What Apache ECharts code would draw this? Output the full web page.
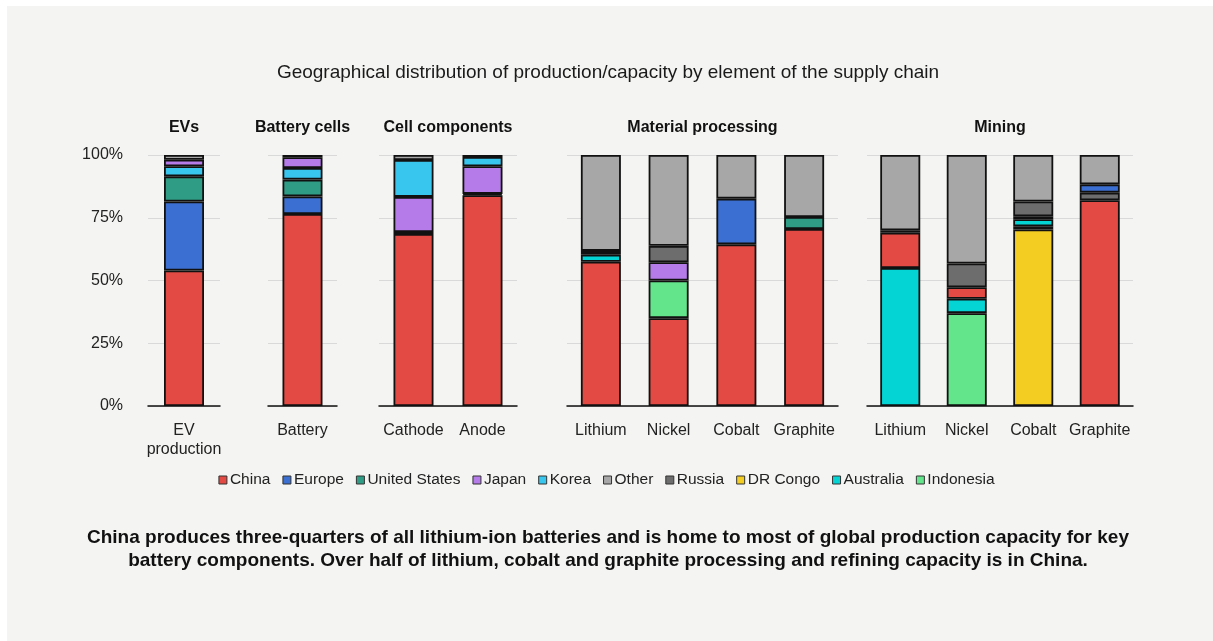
<!DOCTYPE html>
<html>
<head>
<meta charset="utf-8">
<script src="https://cdn.jsdelivr.net/npm/echarts@6/dist/echarts.min.js"></script>
<style>
  html, body { margin: 0; padding: 0; background: #ffffff; }
  #bg { position: absolute; left: 7px; top: 6px; right: 0; bottom: 0; background: #f4f4f2; }
  #main { position: absolute; left: 0; top: 0; width: 1213px; height: 641px; }
</style>
</head>
<body>
<div id="bg"></div>
<div id="main"></div>
<script>
// panels and their bars
const groups = ['EVs', 'Battery cells', 'Cell components', 'Material processing', 'Mining']
const categories = [
  ['EV\nproduction'],
  ['Battery'],
  ['Cathode', 'Anode'],
  ['Lithium', 'Nickel', 'Cobalt', 'Graphite'],
  ['Lithium', 'Nickel', 'Cobalt', 'Graphite']
]
const yTicks = [0, 25, 50, 75, 100]

// shares (%) per bar: EV, Battery, Cathode, Anode, proc Li/Ni/Co/Gr, mining Li/Ni/Co/Gr
const china     = [54, 76.5, 68.5, 84, 57.5, 35, 64.4, 70.5, 14, 4.6, 1.2, 82]
const europe    = [27.5, 7, 0.8, 0.5, 0, 0, 18.2, 0, 0, 0, 0, 3.3]
const unitedStates = [10, 6.7, 0, 0, 1.5, 0, 0, 4.8, 0, 0, 0, 0]
const japan     = [2.6, 4.3, 14, 11, 0, 7.3, 0, 0, 0, 0, 0, 0]
const korea     = [4, 4.6, 14.7, 3.7, 0, 0, 0, 0, 0, 0, 0, 0]
const other     = [1.9, 0.9, 2, 0.8, 38.2, 36.2, 17.4, 24.7, 30, 43.2, 18.5, 11.7]
const russia    = [0, 0, 0, 0, 0, 6.5, 0, 0, 1, 9.5, 5.9, 3]
const drCongo   = [0, 0, 0, 0, 0, 0, 0, 0, 0, 0, 70.3, 0]
const australia = [0, 0, 0, 0, 2.8, 0, 0, 0, 55, 5.7, 2.8, 0]
const indonesia = [0, 0, 0, 0, 0, 15, 0, 0, 0, 37, 1.3, 0]

const countries = {
  'China': { data: china, color: '#e24a43' },
  'Europe': { data: europe, color: '#3b6fd1' },
  'United States': { data: unitedStates, color: '#2f9d86' },
  'Japan': { data: japan, color: '#b47be9' },
  'Korea': { data: korea, color: '#38c6ee' },
  'Other': { data: other, color: '#a7a7a7' },
  'Russia': { data: russia, color: '#6d6d6d' },
  'DR Congo': { data: drCongo, color: '#f4cd22' },
  'Australia': { data: australia, color: '#05d4d4' },
  'Indonesia': { data: indonesia, color: '#63e58c' }
}

// stacking order inside each panel (bottom to top)
const stackOrder = [
  ['China', 'Europe', 'United States', 'Korea', 'Japan', 'Other'],
  ['China', 'Europe', 'United States', 'Korea', 'Japan', 'Other'],
  ['China', 'Europe', 'Japan', 'Korea', 'Other'],
  ['China', 'Indonesia', 'Australia', 'United States', 'Japan', 'Russia', 'Europe', 'Other'],
  ['DR Congo', 'Indonesia', 'Australia', 'China', 'Russia', 'Europe', 'Other']
]

const gridBoxes = [
  { left: 148, width: 72 },
  { left: 268, width: 69 },
  { left: 379, width: 138 },
  { left: 567, width: 271 },
  { left: 867, width: 266 }
]

const font = 'Liberation Sans, Arial, sans-serif'
const chart = echarts.init(document.getElementById('main'), null, { renderer: 'canvas' })

const grids = []
const xAxes = []
const yAxes = []
const series = []
const titles = [{
  text: 'Geographical distribution of production/capacity by element of the supply chain',
  left: 608,
  top: 63,
  padding: 0,
  textAlign: 'center',
  textStyle: { fontFamily: font, fontSize: 19, fontWeight: 'normal', color: '#1a1a1a' }
}]

let offset = 0
groups.forEach((g, i) => {
  const box = gridBoxes[i]
  grids.push({ left: box.left, width: box.width, top: 155, height: 251 })
  titles.push({
    text: g,
    left: box.left + box.width / 2,
    top: 120,
    padding: 0,
    textAlign: 'center',
    textStyle: { fontFamily: font, fontSize: 16, fontWeight: 'bold', color: '#111' }
  })
  xAxes.push({
    type: 'category',
    gridIndex: i,
    data: categories[i],
    axisLine: { lineStyle: { color: '#111', width: 1.5 } },
    axisTick: { show: false },
    axisLabel: { interval: 0, fontFamily: font, fontSize: 16, color: '#222', margin: 15, lineHeight: 19 }
  })
  yAxes.push({
    type: 'value',
    gridIndex: i,
    min: yTicks[0],
    max: yTicks[yTicks.length - 1],
    interval: 25,
    axisLine: { show: false },
    axisTick: { show: false },
    splitLine: { lineStyle: { color: '#d9d9d9', width: 1 } },
    axisLabel: {
      show: i === 0,
      formatter: '{value}%',
      fontFamily: font,
      fontSize: 16,
      color: '#222',
      margin: 25
    }
  })
  const n = categories[i].length
  stackOrder[i].forEach(name => {
    const vals = countries[name].data.slice(offset, offset + n)
    if (vals.every(v => !v)) return
    series.push({
      name: name,
      type: 'bar',
      stack: 'g' + i,
      xAxisIndex: i,
      yAxisIndex: i,
      barWidth: 40,
      data: vals.map(v => (v ? v : null)),
      itemStyle: { color: countries[name].color, borderColor: '#111', borderWidth: 1.8 },
      emphasis: { disabled: true }
    })
  })
  offset += n
})

titles.push({
  text: 'China produces three-quarters of all lithium-ion batteries and is home to most of global production capacity for key\nbattery components. Over half of lithium, cobalt and graphite processing and refining capacity is in China.',
  left: 608,
  top: 526,
  padding: 0,
  textAlign: 'center',
  textStyle: { fontFamily: font, fontSize: 19, fontWeight: 'bold', color: '#111', lineHeight: 23 }
})

chart.setOption({
  animation: false,
  title: titles,
  grid: grids,
  xAxis: xAxes,
  yAxis: yAxes,
  legend: {
    data: Object.keys(countries),
    left: 'center',
    top: 467,
    icon: 'rect',
    itemWidth: 8,
    itemHeight: 8,
    itemGap: 12,
    selectedMode: false,
    itemStyle: { borderColor: '#333', borderWidth: 1 },
    textStyle: { fontFamily: font, fontSize: 15.5, color: '#222', padding: [0, 0, 0, -2] }
  },
  series: series
})
</script>
</body>
</html>
